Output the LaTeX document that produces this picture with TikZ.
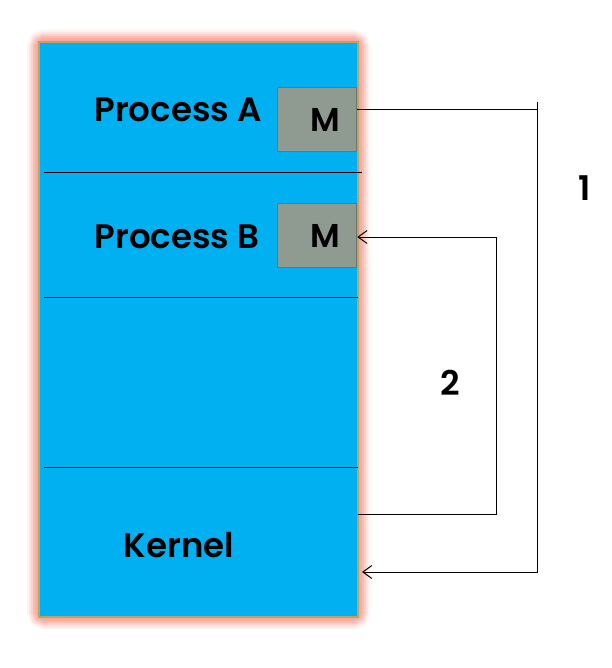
\documentclass[tikz,border=0pt]{standalone}
\usepackage{fontspec}
\setmainfont{Poppins}[BoldFont={Poppins SemiBold}]
\usetikzlibrary{arrows.meta,positioning}

\definecolor{memblue}{HTML}{00B0F0}
\definecolor{memedge}{HTML}{B9A46A}
\definecolor{glowpink}{HTML}{F9A597}
\definecolor{mgray}{HTML}{8F9A91}
\definecolor{mgrayedge}{HTML}{6C746D}

\begin{document}
\begin{tikzpicture}
	[x=1pt,y=-1pt,
	mem/.style={draw=memedge,fill=memblue,line width=1.2pt,minimum width=319pt,minimum height=575pt,inner sep=0pt},
	mbox/.style={draw=mgrayedge,fill=mgray,line width=1.5pt,minimum width=79pt,minimum height=64pt,inner sep=0pt,text width=46pt,align=right,font=\fontsize{33}{36}\selectfont\bfseries},
	lbl/.style={font=\fontsize{34}{38}\selectfont\bfseries},
	sep/.style={draw,line width=1pt},
	link/.style={draw,line width=1pt,-{Straight Barb[length=9pt,width=13pt,line width=1pt]}}]
	\useasboundingbox (0,0) rectangle (611,668);
	
	% glow round the memory
	\foreach \w/\o in {24/0.12,20/0.2,16/0.3,12/0.45,8/0.65,4/0.9}
	\draw [glowpink,line width=\w pt,opacity=\o,rounded corners=5pt] (39,42) rectangle (358,617);
	
	\node [mem] (mem) at (198.5,329.5) {};
	
	\draw [sep] (44,173) -- (362,173);
	\draw [sep] (44,297) -- (358,297);
	\draw [sep] (44,467) -- (358,467);
	
	\node [mbox] (ma) at (317,119.5) {M};
	\node [mbox] (mb) at (317,235.5) {M};
	
	\node [lbl] (pa) at (178,110) {Process A};
	\node [lbl] (pb) at (177,237) {Process B};
	\node [lbl] (kern) at (179,545) {Kernel};
	
	\coordinate (kout) at (358,514);
	\coordinate (kin) at (362,572);
	
	\draw [link] (ma.east |- 0,110) -- (537,110) -- (537,572) -- (kin);
	\draw [sep] (537,102) -- (537,110);
	\draw [link] (kout) -- (496,514) -- (496,237) -- (mb.east |- 0,237);
	
	\node [lbl] (one) at (585,188) {1};
	\node [lbl] (two) at (450,383) {2};
	
\end{tikzpicture}
\end{document}
